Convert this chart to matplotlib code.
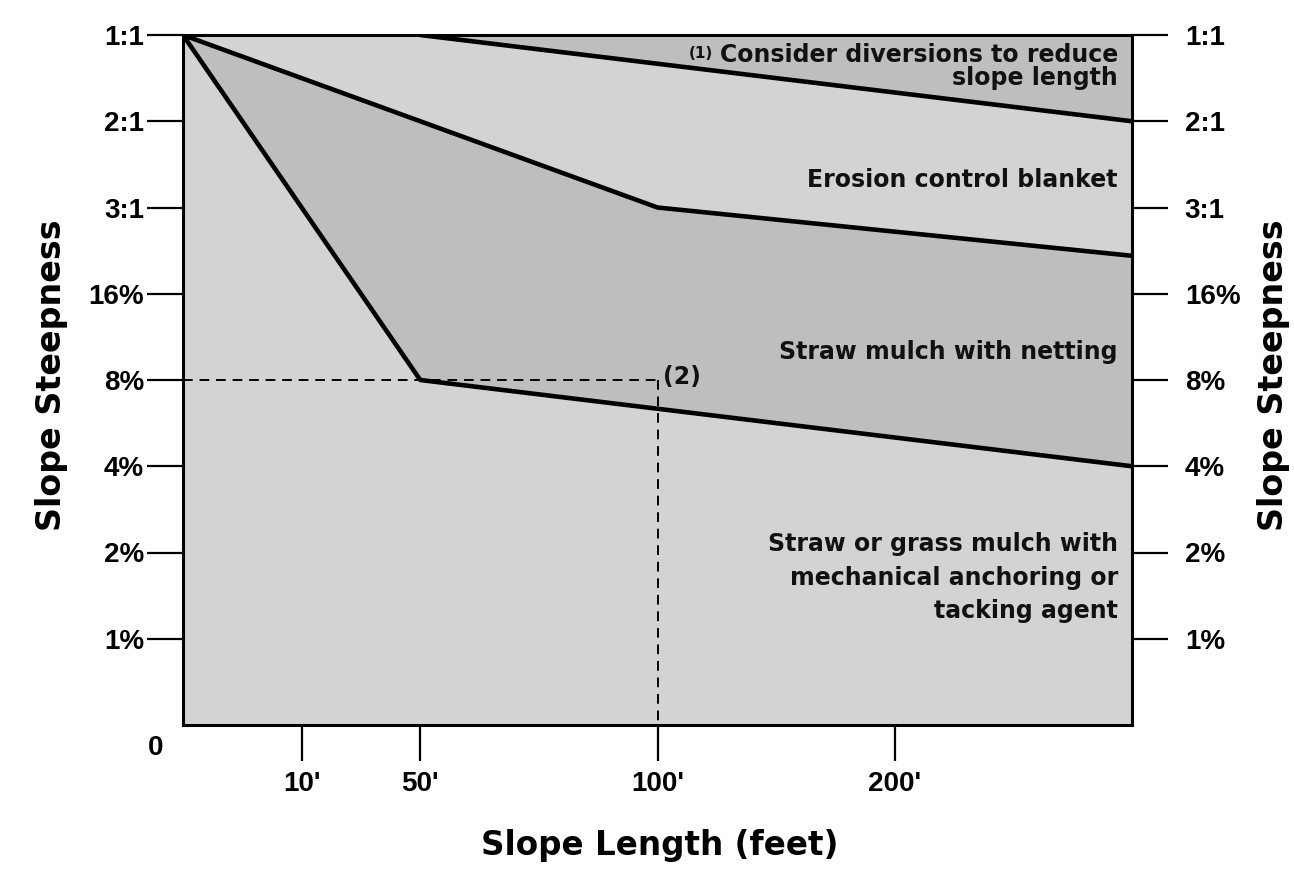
import matplotlib
matplotlib.use("Agg")
import matplotlib.pyplot as plt
import numpy as np

# ---- data ----
y_tick_labels = ["1%", "2%", "4%", "8%", "16%", "3:1", "2:1", "1:1"]
y_tick_pos = [1, 2, 3, 4, 5, 6, 7, 8]
x_tick_labels = ["10'", "50'", "100'", "200'"]
x_tick_pos = [0.5, 1, 2, 3]

# boundary lines (x in slope-length scale positions, y in steepness scale positions)
line_a_x = [0, 1, 4]
line_a_y = [8, 4, 3]
line_b_x = [0, 1, 2, 4]
line_b_y = [8, 7, 6, 5.44]
line_c_x = [1, 4]
line_c_y = [8, 7]

ref_x = 2   # 100'
ref_y = 4   # 8%

labels = [
    ("slope length", 7.42),
    ("Erosion control blanket", 6.24),
    ("Straw mulch with netting", 4.24),
    ("Straw or grass mulch with", 2.02),
    ("mechanical anchoring or", 1.62),
    ("tacking agent", 1.24),
]
title_line = ("Consider diversions to reduce", 7.69)

light = "#d3d3d3"
dark = "#bebebe"

W, H = 1294, 869
fig = plt.figure(figsize=(W / 100, H / 100), dpi=100)
ax = fig.add_axes([183 / W, 1 - 725 / H, (1132 - 183) / W, (725 - 35) / H])
ax.set_xlim(0, 4)
ax.set_ylim(0, 8)
ax.set_facecolor(light)

# shaded regions
ax.fill(np.r_[line_a_x, line_b_x[::-1]], np.r_[line_a_y, line_b_y[::-1]],
        color=dark, lw=0, zorder=1)
ax.fill(np.r_[line_c_x, [4]], np.r_[line_c_y, [8]], color=dark, lw=0, zorder=1)

for xs, ys in [(line_a_x, line_a_y), (line_b_x, line_b_y), (line_c_x, line_c_y)]:
    ax.plot(xs, ys, color="black", lw=3.3, solid_capstyle="round",
            solid_joinstyle="round", zorder=3)

# dashed reference
ax.plot([0, ref_x], [ref_y, ref_y], color="black", lw=1.4, ls=(0, (5, 3.5)), zorder=2)
ax.plot([ref_x, ref_x], [ref_y, 0], color="black", lw=1.4, ls=(0, (5, 3.5)), zorder=2)

for s in ax.spines.values():
    s.set_linewidth(2.2)
    s.set_zorder(5)

tick_font = dict(family="Liberation Sans", weight="bold", size=20)
ax.set_yticks(y_tick_pos)
ax.set_yticklabels(y_tick_labels, fontdict=tick_font)
ax.set_xticks(x_tick_pos)
ax.set_xticklabels(x_tick_labels, fontdict=tick_font)
ax.tick_params(axis="y", direction="out", length=26, width=1.6, pad=2, left=True, right=False)
ax.tick_params(axis="x", direction="out", length=26, width=1.6, pad=7)

axr = ax.twinx()
axr.set_ylim(0, 8)
axr.set_yticks(y_tick_pos)
axr.set_yticklabels(y_tick_labels, fontdict=tick_font)
axr.tick_params(axis="y", direction="out", length=26, width=1.6, pad=12)
for s in axr.spines.values():
    s.set_visible(False)

ax.text(-0.115, -0.27, "0", ha="center", va="center", **tick_font)

lab_font = dict(family="DejaVu Sans", weight="bold", size=24)
fig.text(52 / W, 1 - 375 / H, "Slope Steepness", rotation=90, ha="center", va="center", **lab_font)
fig.text(1273 / W, 1 - 375 / H, "Slope Steepness", rotation=90, ha="center", va="center", **lab_font)
fig.text(660 / W, 1 - 855 / H, "Slope Length (feet)", ha="center", va="baseline",
         family="DejaVu Sans", weight="bold", size=23.5)

ann_font = dict(family="DejaVu Sans", weight="bold", size=17, color="#111111")
xr = 3.94
t1 = ax.text(xr, title_line[1], title_line[0], ha="right", va="baseline", zorder=6, **ann_font)
ax.annotate("(1)", xy=(0, 0.55), xycoords=t1, xytext=(-5, 0), textcoords="offset points",
            ha="right", va="center", zorder=6, family="DejaVu Sans", weight="bold",
            size=11, color="#111111")
for txt, yy in labels:
    ax.text(xr, yy, txt, ha="right", va="baseline", zorder=6, **ann_font)
ax.text(ref_x + 0.023, ref_y + 0.03, "(2)", ha="left", va="center", zorder=6, **ann_font)

fig.savefig("out.png", dpi=100)
